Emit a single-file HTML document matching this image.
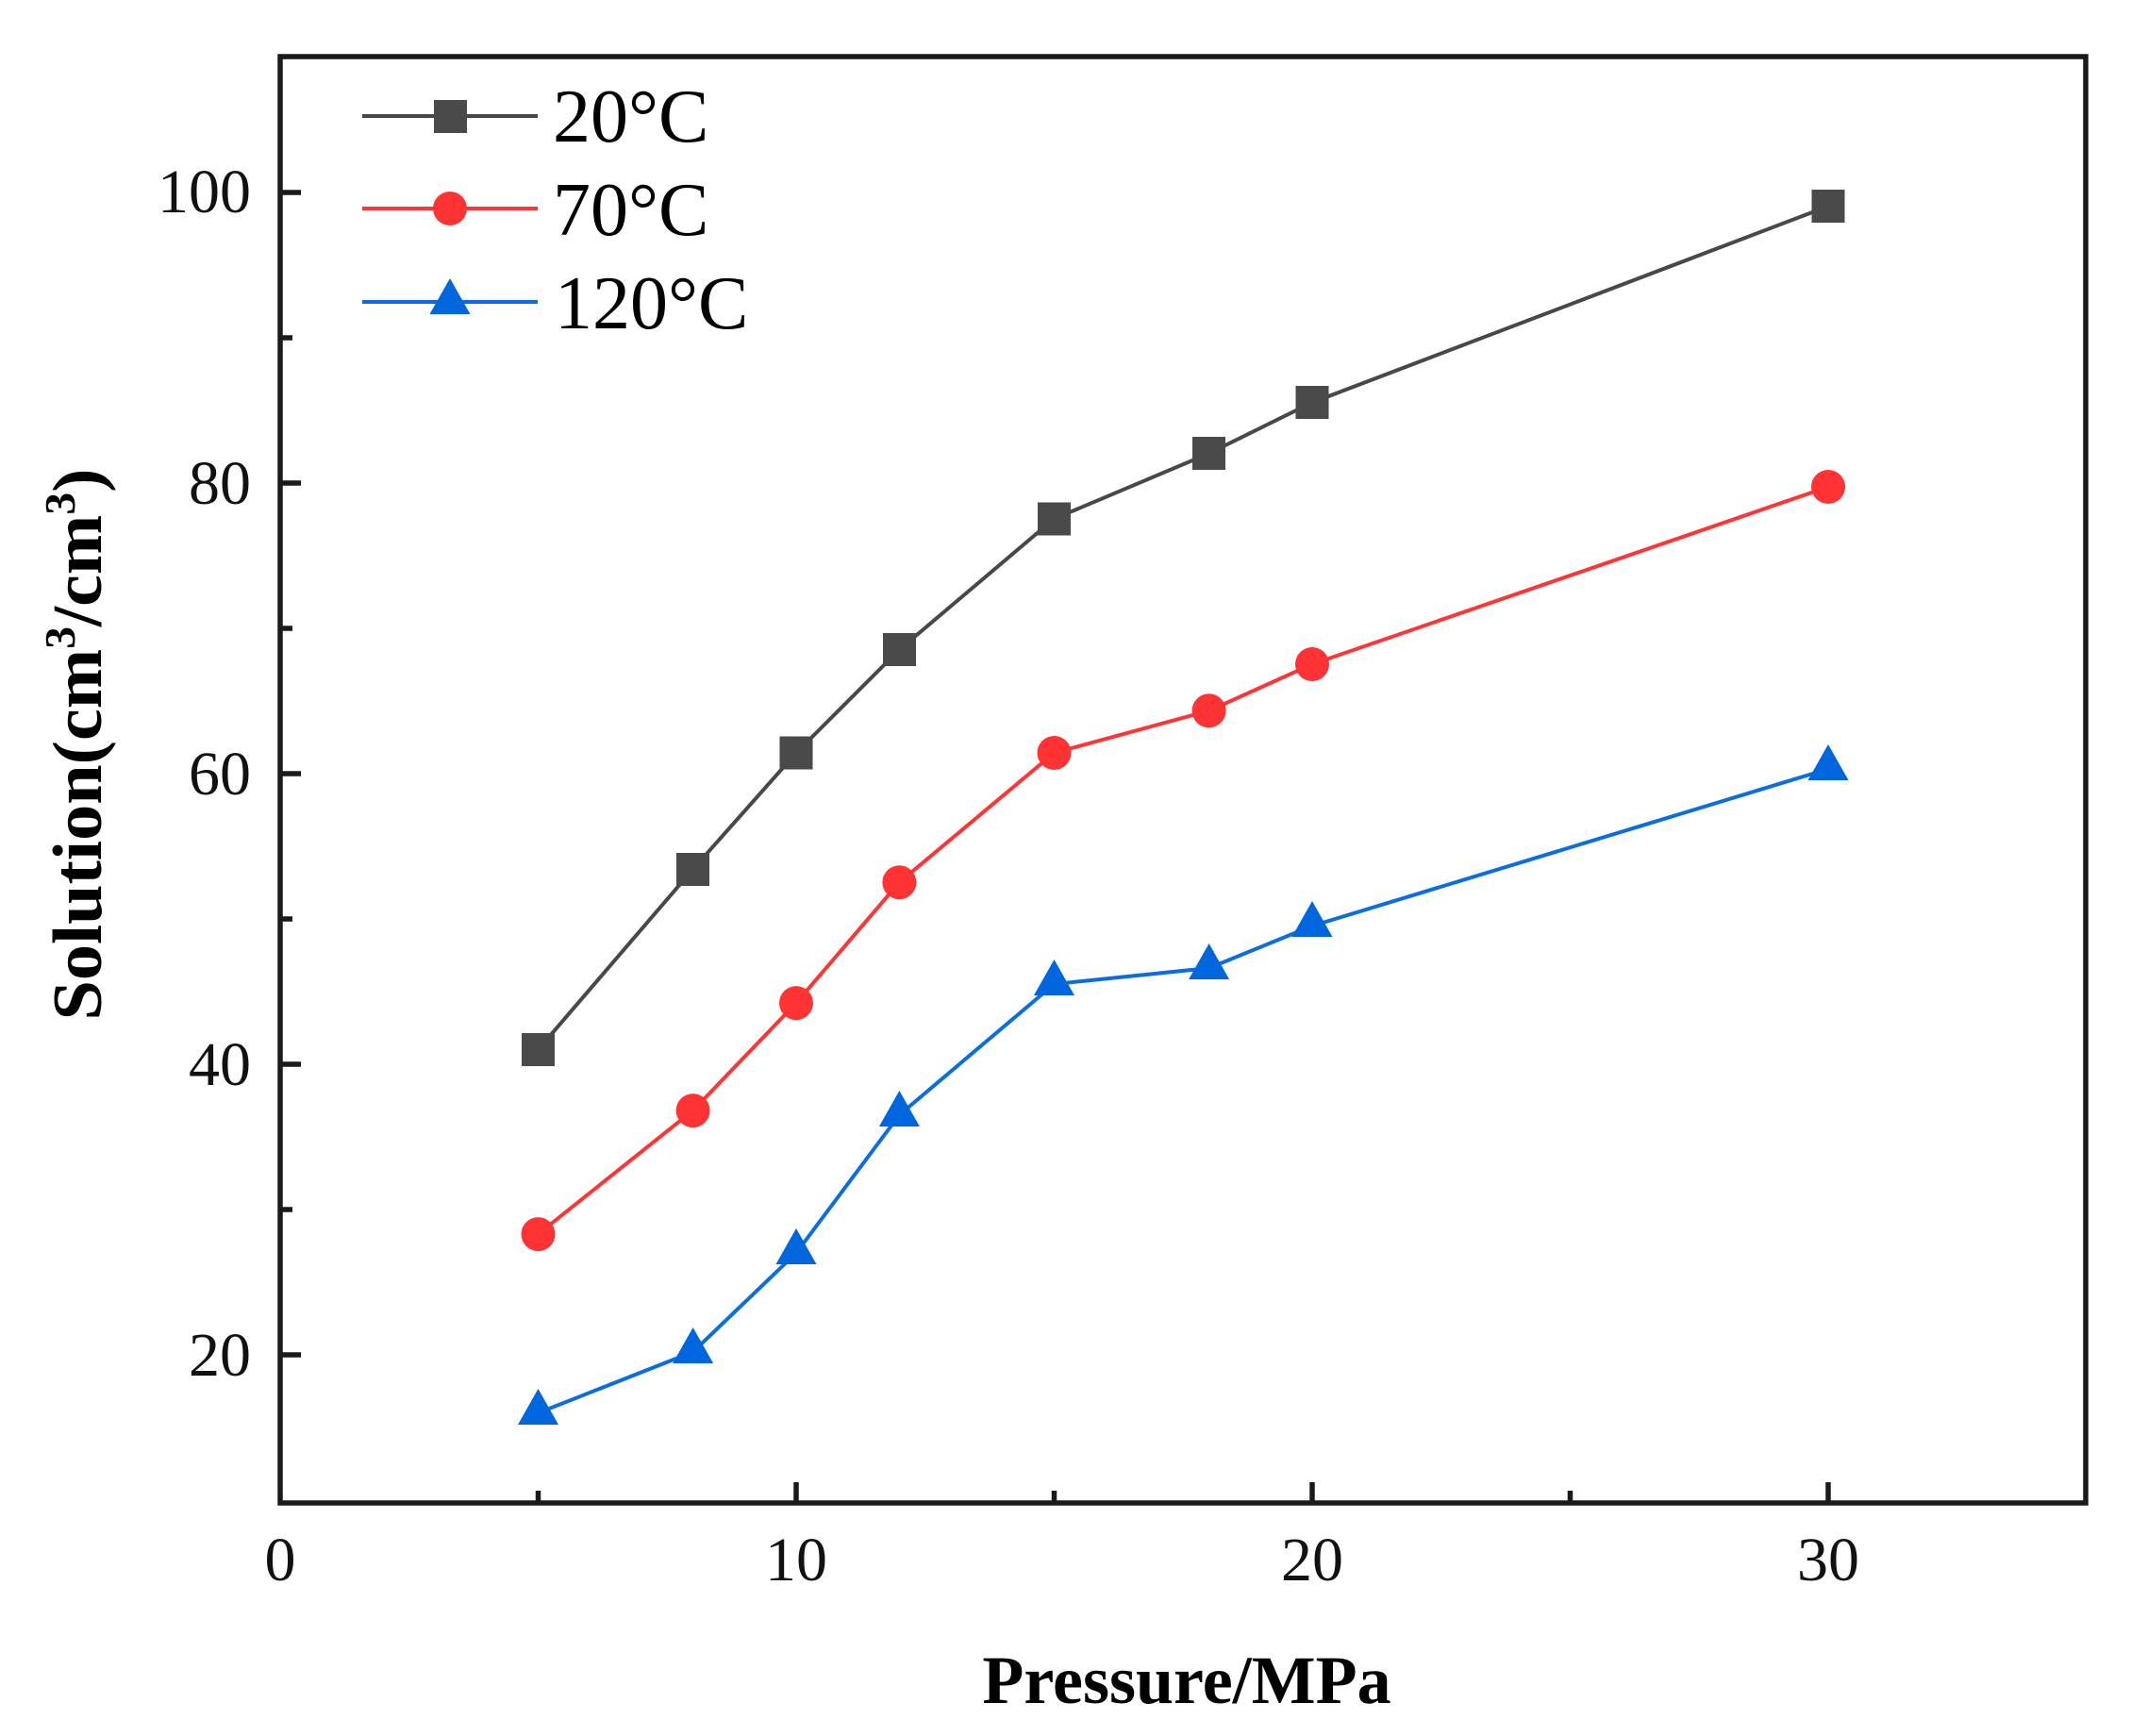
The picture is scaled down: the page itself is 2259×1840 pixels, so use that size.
<!DOCTYPE html>
<html><head><meta charset="utf-8"><style>html,body{margin:0;padding:0;background:#fff}svg{display:block}</style></head>
<body>
<svg width="2259" height="1840" viewBox="0 0 2259 1840" xmlns="http://www.w3.org/2000/svg" font-family="'Liberation Serif', serif">
<rect width="2259" height="1840" fill="#fff"/>
<rect x="297" y="60" width="1914" height="1533" fill="none" stroke="#1a1a1a" stroke-width="5.5"/>
<g stroke="#1a1a1a" stroke-width="5.5">
<line x1="844" y1="1593" x2="844" y2="1571"/>
<line x1="1391" y1="1593" x2="1391" y2="1571"/>
<line x1="1938" y1="1593" x2="1938" y2="1571"/>
<line x1="570.5" y1="1593" x2="570.5" y2="1580"/>
<line x1="1117.5" y1="1593" x2="1117.5" y2="1580"/>
<line x1="1664.5" y1="1593" x2="1664.5" y2="1580"/>
<line x1="297" y1="1436" x2="319" y2="1436"/>
<line x1="297" y1="1128" x2="319" y2="1128"/>
<line x1="297" y1="820" x2="319" y2="820"/>
<line x1="297" y1="512" x2="319" y2="512"/>
<line x1="297" y1="204" x2="319" y2="204"/>
<line x1="297" y1="1282" x2="310" y2="1282"/>
<line x1="297" y1="974" x2="310" y2="974"/>
<line x1="297" y1="666" x2="310" y2="666"/>
<line x1="297" y1="358" x2="310" y2="358"/>
</g>
<g font-size="66" fill="#111" text-anchor="middle">
<text x="297" y="1675">0</text>
<text x="844" y="1675">10</text>
<text x="1391" y="1675">20</text>
<text x="1938" y="1675">30</text>
</g>
<g font-size="66" fill="#111" text-anchor="end">
<text x="266" y="1458">20</text>
<text x="266" y="1150">40</text>
<text x="266" y="842">60</text>
<text x="266" y="534">80</text>
<text x="266" y="225">100</text>
</g>
<text x="1258" y="1805" font-size="72" font-weight="bold" text-anchor="middle" fill="#000">Pressure/MPa</text>
<text transform="translate(107,789) rotate(-90)" font-size="74" font-weight="bold" text-anchor="middle" fill="#000" textLength="585" lengthAdjust="spacingAndGlyphs">Solution(cm<tspan font-size="46" dy="-28">3</tspan><tspan dy="28">/cm</tspan><tspan font-size="46" dy="-28">3</tspan><tspan dy="28">)</tspan></text>
<polyline fill="none" stroke="#484848" stroke-width="4" points="570.5,1112.4 734.6,921.3 844,798 953.4,688.6 1117.5,549.9 1281.6,480.6 1391,426.6 1938,218.6"/>
<g fill="#4a4a4a">
<rect x="553" y="1095" width="35" height="35"/><rect x="717" y="904" width="35" height="35"/><rect x="826.5" y="780.5" width="35" height="35"/><rect x="936" y="671" width="35" height="35"/><rect x="1100" y="532.5" width="35" height="35"/><rect x="1264" y="463" width="35" height="35"/><rect x="1373.5" y="409" width="35" height="35"/><rect x="1920.5" y="201" width="35" height="35"/>
</g>
<polyline fill="none" stroke="#ff3535" stroke-width="4" points="570.5,1308.1 734.6,1177.1 844,1063.1 953.4,935.2 1117.5,798 1281.6,753.3 1391,704 1938,516"/>
<g fill="#ff3333">
<circle cx="570.5" cy="1308.1" r="18"/><circle cx="734.6" cy="1177.1" r="18"/><circle cx="844" cy="1063.1" r="18"/><circle cx="953.4" cy="935.2" r="18"/><circle cx="1117.5" cy="798" r="18"/><circle cx="1281.6" cy="753.3" r="18"/><circle cx="1391" cy="704" r="18"/><circle cx="1938" cy="516" r="18"/>
</g>
<polyline fill="none" stroke="#0a6ee0" stroke-width="4" points="570.5,1497.6 734.6,1432.9 844,1328.1 953.4,1181.7 1117.5,1043 1281.6,1026.1 1391,981.4 1938,815"/>
<g fill="#0066dd">
<path d="M570.5,1472 l21.5,38 h-43z"/><path d="M734.6,1407 l21.5,38 h-43z"/><path d="M844,1302 l21.5,38 h-43z"/><path d="M953.4,1156 l21.5,38 h-43z"/><path d="M1117.5,1017 l21.5,38 h-43z"/><path d="M1281.6,1000 l21.5,38 h-43z"/><path d="M1391,955 l21.5,38 h-43z"/><path d="M1938,789 l21.5,38 h-43z"/>
</g>
<line x1="384" y1="123" x2="570" y2="123" stroke="#484848" stroke-width="4"/>
<rect x="460" y="106" width="35" height="35" fill="#4a4a4a"/>
<line x1="384" y1="221" x2="570" y2="221" stroke="#ff3535" stroke-width="4"/>
<circle cx="477" cy="221" r="18" fill="#ff3333"/>
<line x1="384" y1="320" x2="570" y2="320" stroke="#0a6ee0" stroke-width="4"/>
<path d="M477,295 l21.5,38 h-43z" fill="#0066dd"/>
<g font-size="80" fill="#000">
<text x="586" y="150">20°C</text>
<text x="586" y="249">70°C</text>
<text x="588" y="348">120°C</text>
</g>
</svg>
</body></html>
